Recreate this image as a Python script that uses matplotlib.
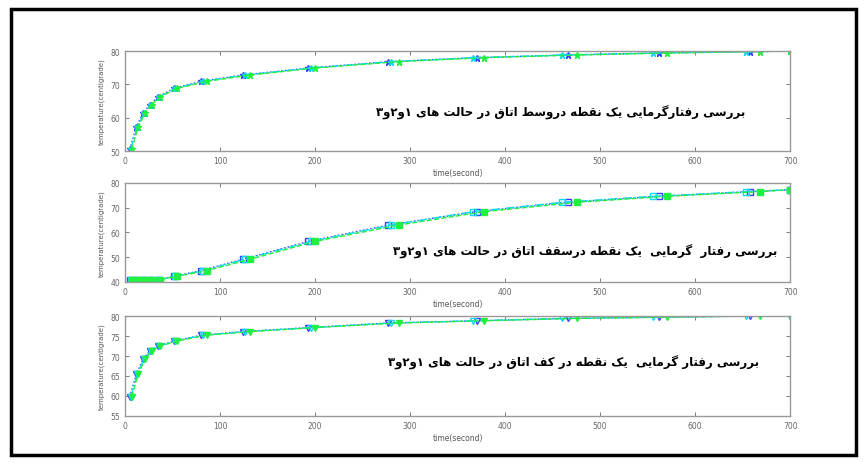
import matplotlib
matplotlib.use("Agg")
import matplotlib.pyplot as plt
from matplotlib.patches import Rectangle

# زمان نمونه ها برای سه حالت
t_hal1 = [5, 12, 19, 26, 35, 52, 80, 124, 193, 277, 370, 466, 562, 658, 700]
t_hal2 = [6, 13, 20, 27, 36, 53, 82, 126, 196, 280, 366, 460, 556, 654, 700]
t_hal3 = [7, 14, 21, 28, 37, 55, 86, 132, 200, 288, 378, 476, 570, 668, 700]

# وسط اتاق
vasat = [50.5, 57.3, 61.3, 63.9, 66.3, 68.8, 70.9, 72.8, 74.9, 76.8, 78.0, 78.8, 79.4, 79.8, 80.0]
# سقف اتاق
saghf = [40.7, 40.7, 40.8, 40.9, 41.0, 42.3, 44.6, 49.2, 56.4, 63.0, 68.4, 72.2, 74.6, 76.5, 77.3]
# کف اتاق
kaf = [59.8, 65.5, 69.2, 71.3, 72.5, 73.75, 75.2, 76.1, 77.1, 78.25, 78.8, 79.4, 79.7, 80.0, 80.0]

onvan = [
    "بررسی رفتارگرمایی یک نقطه دروسط اتاق در حالت های ۱و۲و۳",
    "بررسی رفتار  گرمایی  یک نقطه درسقف اتاق در حالت های ۱و۲و۳",
    "بررسی رفتار گرمایی  یک نقطه در کف اتاق در حالت های ۱و۲و۳",
]

# شکل های حروف: (تنها، پایانی، آغازی، میانی)
FORMS = {
    "ا": (0xFE8D, 0xFE8E, None, None), "ب": (0xFE8F, 0xFE90, 0xFE91, 0xFE92),
    "ت": (0xFE95, 0xFE96, 0xFE97, 0xFE98), "ح": (0xFEA1, 0xFEA2, 0xFEA3, 0xFEA4),
    "د": (0xFEA9, 0xFEAA, None, None), "ر": (0xFEAD, 0xFEAE, None, None),
    "س": (0xFEB1, 0xFEB2, 0xFEB3, 0xFEB4), "ط": (0xFEC1, 0xFEC2, 0xFEC3, 0xFEC4),
    "ف": (0xFED1, 0xFED2, 0xFED3, 0xFED4), "ق": (0xFED5, 0xFED6, 0xFED7, 0xFED8),
    "ل": (0xFEDD, 0xFEDE, 0xFEDF, 0xFEE0), "م": (0xFEE1, 0xFEE2, 0xFEE3, 0xFEE4),
    "ن": (0xFEE5, 0xFEE6, 0xFEE7, 0xFEE8), "ه": (0xFEE9, 0xFEEA, 0xFEEB, 0xFEEC),
    "و": (0xFEED, 0xFEEE, None, None), "ی": (0xFBFC, 0xFBFD, 0xFBFE, 0xFBFF),
    "گ": (0xFB92, 0xFB93, 0xFB94, 0xFB95), "ک": (0xFB8E, 0xFB8F, 0xFB90, 0xFB91),
}


def farsi(s):
    out = []
    for i, c in enumerate(s):
        if c not in FORMS:
            out.append(c)
            continue
        p = s[i - 1] if i > 0 else ""
        n = s[i + 1] if i + 1 < len(s) else ""
        az_ghabl = p in FORMS and FORMS[p][2] is not None
        be_baad = n in FORMS and FORMS[c][2] is not None
        f = FORMS[c]
        if az_ghabl and be_baad:
            k = f[3]
        elif az_ghabl:
            k = f[1]
        elif be_baad:
            k = f[2]
        else:
            k = f[0]
        out.append(chr(k))
    return "".join(out)[::-1]


fig = plt.figure(figsize=(8.65, 4.64), dpi=100)
fig.patches.append(Rectangle((11 / 865, 1 - 456 / 464), 845 / 865, 446 / 464,
                             transform=fig.transFigure, fill=False,
                             edgecolor="black", linewidth=2.5))

mahal = [(0.6724, 0.2155), (0.3901, 0.2134), (0.1013, 0.2155)]
dadeha = [vasat, saghf, kaf]
nemad = ["*", "s", "v"]
ylims = [(50, 80), (40, 80), (55, 80)]
yticks = [[50, 60, 70, 80], [40, 50, 60, 70, 80], [55, 60, 65, 70, 75, 80]]
mahal_matn = [(458, 61.7), (484, 52.5), (472, 68.5)]

for i in range(3):
    ax = fig.add_axes([0.1445, mahal[i][0], 0.769, mahal[i][1]])
    y = dadeha[i]
    ax.plot(t_hal1, y, color="#3b3bff", linestyle=":", marker=nemad[i],
            markersize=5, markerfacecolor="none", linewidth=1)
    ax.plot(t_hal2, y, color="#10d8f0", linestyle="-.", marker=nemad[i],
            markersize=5, markerfacecolor="none", linewidth=1)
    ax.plot(t_hal3, y, color="#20f040", linestyle="--", marker=nemad[i],
            markersize=5, linewidth=1)
    ax.set_xlim(0, 700)
    ax.set_ylim(*ylims[i])
    ax.set_xticks(range(0, 701, 100))
    ax.set_yticks(yticks[i])
    ax.tick_params(direction="in", top=True, right=True, labelsize=5.5,
                   colors="#666666", length=3, width=0.6)
    for s in ax.spines.values():
        s.set_color("#999999")
        s.set_linewidth(1)
    ax.set_xlabel("time(second)", fontsize=5.5, color="#555555", labelpad=2)
    ax.set_ylabel("temperature(centigrade)", fontsize=5, color="#555555", labelpad=4)
    ax.text(mahal_matn[i][0], mahal_matn[i][1], farsi(onvan[i]), ha="center",
            va="center", fontsize=8.5, fontweight="bold", family=["DejaVu Sans"])

fig.savefig("out.png", dpi=100)
